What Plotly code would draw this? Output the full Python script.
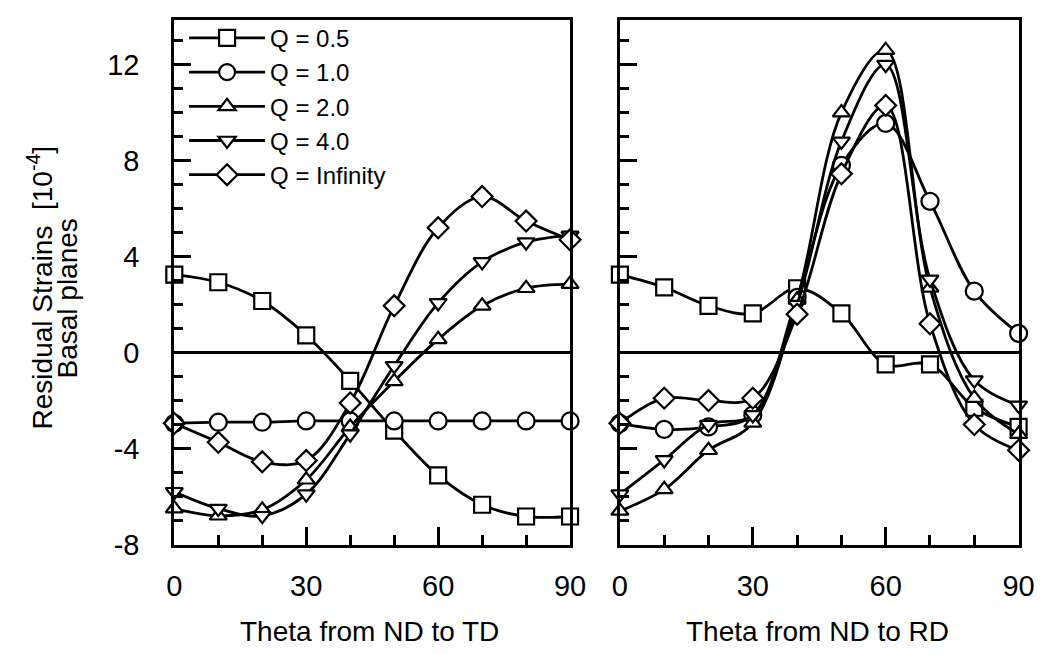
import plotly.graph_objects as go

theta = [0, 10, 20, 30, 40, 50, 60, 70, 80, 90]
series_names = ["Q = 0.5", "Q = 1.0", "Q = 2.0", "Q = 4.0", "Q = Infinity"]

# Left panel: Theta from ND to TD
q05_td = [3.25, 2.93, 2.15, 0.72, -1.18, -3.25, -5.12, -6.34, -6.83, -6.83]
q10_td = [-2.95, -2.9, -2.9, -2.85, -2.85, -2.85, -2.85, -2.85, -2.85, -2.85]
q20_td = [-6.5, -6.8, -6.55, -5.3, -3.1, -1.2, 0.55, 1.95, 2.68, 2.85]
q40_td = [-5.8, -6.5, -6.8, -5.9, -3.4, -0.55, 2.07, 3.78, 4.6, 4.88]
qinf_td = [-2.95, -3.74, -4.55, -4.5, -2.1, 1.95, 5.2, 6.5, 5.48, 4.7]

# Right panel: Theta from ND to RD
q05_rd = [3.25, 2.72, 1.95, 1.63, 2.68, 1.63, -0.49, -0.49, -2.3, -3.1]
q10_rd = [-2.95, -3.2, -3.1, -2.6, 2.3, 7.8, 9.55, 6.3, 2.56, 0.8]
q20_rd = [-6.6, -5.7, -4.07, -2.93, 2.2, 10.0, 12.6, 2.7, -1.9, -3.4]
q40_rd = [-5.9, -4.47, -3.0, -2.6, 2.0, 8.8, 12.0, 3.05, -1.15, -2.2]
qinf_rd = [-2.95, -1.9, -2.0, -1.9, 1.6, 7.45, 10.3, 1.2, -3.0, -4.07]

x_tickvals = [0, 30, 60, 90]
y_tickvals = [-8, -4, 0, 4, 8, 12]

symbols = ["square", "circle", "triangle-up", "triangle-down", "diamond"]
sizes = [16, 17, 15, 15, 16]

FONT = "Arial, Liberation Sans, Helvetica, sans-serif"
W, H = 1052, 655

fig = go.Figure()

td_data = [q05_td, q10_td, q20_td, q40_td, qinf_td]
rd_data = [q05_rd, q10_rd, q20_rd, q40_rd, qinf_rd]

for i, name in enumerate(series_names):
    for data, xa, ya, show in [(td_data[i], "x", "y", True), (rd_data[i], "x2", "y2", False)]:
        fig.add_trace(go.Scatter(
            x=theta, y=data, name=name, xaxis=xa, yaxis=ya,
            mode="lines+markers", showlegend=show, legendgroup=name,
            line=dict(color="black", width=2.8, shape="spline", smoothing=1.0),
            marker=dict(symbol=symbols[i], size=sizes[i], color="white",
                        line=dict(color="black", width=2.2)),
            cliponaxis=False,
        ))

def xax(domain):
    return dict(
        domain=domain, range=[0, 90], showgrid=False, zeroline=False,
        showline=True, linecolor="black", linewidth=3, mirror=True,
        ticks="inside", ticklen=18, tickwidth=2.5, tickcolor="black",
        tickvals=x_tickvals, ticktext=[str(v) for v in x_tickvals],
        minor=dict(dtick=10, ticks="inside", ticklen=10, tickwidth=2.5, tickcolor="black"),
        tickfont=dict(family=FONT, size=29, color="black"),
        ticklabelstandoff=14,
    )

def yax(domain, anchor, labels):
    return dict(
        domain=domain, anchor=anchor, range=[-8, 13.87], showgrid=False,
        zeroline=True, zerolinecolor="black", zerolinewidth=3,
        showline=True, linecolor="black", linewidth=3, mirror=True,
        ticks="inside", ticklen=17, tickwidth=2.5, tickcolor="black",
        tickvals=y_tickvals, ticktext=[str(v) for v in y_tickvals],
        showticklabels=labels,
        minor=dict(dtick=1, ticks="inside", ticklen=9, tickwidth=2.5, tickcolor="black"),
        tickfont=dict(family=FONT, size=29, color="black"),
        ticklabelstandoff=26,
    )

ydom = [1 - 550 / H, 1 - 12 / H]
fig.update_layout(
    width=W, height=H,
    margin=dict(l=0, r=0, t=0, b=0),
    paper_bgcolor="white", plot_bgcolor="white",
    xaxis=dict(anchor="y", **xax([162 / W, 567 / W])),
    xaxis2=dict(anchor="y2", **xax([618 / W, 1026 / W])),
    yaxis=yax(ydom, "x", True),
    yaxis2=yax(ydom, "x2", False),
    showlegend=True,
    legend=dict(x=172 / W, y=1 - 8 / H, xanchor="left", yanchor="top",
                bgcolor="rgba(0,0,0,0)", borderwidth=0,
                font=dict(family=FONT, size=24, color="black"),
                itemwidth=76, tracegroupgap=0),
    annotations=[
        dict(text="Theta from ND to TD", x=362 / W, y=1 - 639 / H, xref="paper", yref="paper",
             showarrow=False, xanchor="center", yanchor="middle",
             font=dict(family=FONT, size=28, color="black")),
        dict(text="Theta from ND to RD", x=820 / W, y=1 - 639 / H, xref="paper", yref="paper",
             showarrow=False, xanchor="center", yanchor="middle",
             font=dict(family=FONT, size=28, color="black")),
        dict(text="Residual Strains  [10<sup>-4</sup>]", x=25 / W, y=1 - 286 / H, xref="paper", yref="paper",
             showarrow=False, xanchor="center", yanchor="middle", textangle=-90,
             font=dict(family=FONT, size=28, color="black")),
        dict(text="Basal planes", x=53 / W, y=1 - 298 / H, xref="paper", yref="paper",
             showarrow=False, xanchor="center", yanchor="middle", textangle=-90,
             font=dict(family=FONT, size=28, color="black")),
    ],
)

fig.write_html("out.html")
